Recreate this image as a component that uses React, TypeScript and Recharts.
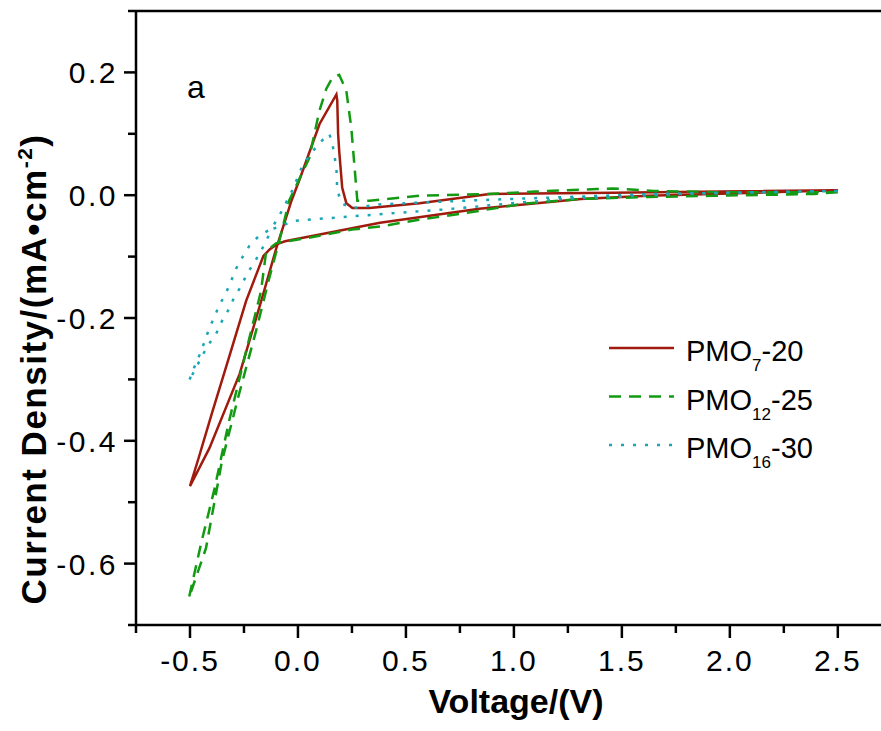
import { LineChart, Line, XAxis, YAxis, ReferenceLine, Legend } from "recharts";

// PMO7-20: cathodic sweep from 2.5 V down to -0.5 V, then anodic sweep back
const pmo7Voltage = [
  2.5, 1.92, 1.62, 1.31, 0.84, 0.38, 0.19, -0.06, -0.09, -0.11, -0.13, -0.16, -0.24, -0.32, -0.4, -0.46, -0.5,
  -0.41, -0.27, -0.17, -0.1, -0.03, 0.01, 0.1, 0.178, 0.182, 0.186, 0.191, 0.205, 0.224, 0.252, 0.331, 0.563, 0.887,
  1.458, 2.5,
];
const pmo7Current = [
  0.008, 0.002, -0.001, -0.006, -0.022, -0.045, -0.058, -0.075, -0.079, -0.083, -0.088, -0.099, -0.172, -0.265,
  -0.357, -0.428, -0.474, -0.412, -0.291, -0.172, -0.086, -0.009, 0.028, 0.116, 0.164, 0.154, 0.1, 0.072, 0.012,
  -0.013, -0.021, -0.021, -0.013, 0.002, 0.004, 0.008,
];

// PMO12-25
const pmo12Voltage = [
  2.5, 2.39, 1.92, 1.62, 1.31, 1.04, 0.76, 0.56, 0.38, 0.25, 0.04, -0.1, -0.147, -0.171, -0.24, -0.319, -0.389,
  -0.449, -0.505, -0.426, -0.352, -0.273, -0.194, -0.133, -0.078, -0.041, 0.052, 0.099, 0.131, 0.159, 0.191, 0.224,
  0.247, 0.27, 0.275, 0.331, 0.563, 0.887, 1.1, 1.384, 1.458, 1.644, 1.922, 2.5,
];
const pmo12Current = [
  0.005, 0.002, -0.001, -0.003, -0.006, -0.014, -0.03, -0.04, -0.051, -0.056, -0.07, -0.078, -0.091, -0.156, -0.254,
  -0.368, -0.482, -0.568, -0.656, -0.575, -0.433, -0.324, -0.221, -0.135, -0.063, -0.009, 0.06, 0.137, 0.173, 0.191,
  0.196, 0.17, 0.11, 0.012, -0.009, -0.009, -0.001, 0.002, 0.006, 0.01, 0.011, 0.007, 0.005, 0.005,
];

// PMO16-30
const pmo16Voltage = [
  2.5, 1.769, 1.458, 1.245, 0.994, 0.688, 0.377, -0.027, -0.073, -0.119, -0.143, -0.171, -0.203, -0.236, -0.263,
  -0.296, -0.319, -0.352, -0.379, -0.412, -0.444, -0.472, -0.505, -0.481, -0.458, -0.435, -0.412, -0.389, -0.365,
  -0.333, -0.31, -0.287, -0.259, -0.226, -0.18, -0.124, -0.087, -0.055, -0.027, 0.015, 0.052, 0.099, 0.145, 0.159,
  0.178, 0.182, 0.205, 0.252, 0.377, 0.762, 1.245, 1.644, 2.5,
];
const pmo16Current = [
  0.007, 0.002, -0.003, -0.006, -0.013, -0.023, -0.031, -0.042, -0.05, -0.055, -0.071, -0.091, -0.11, -0.128, -0.148,
  -0.167, -0.185, -0.205, -0.226, -0.242, -0.262, -0.281, -0.303, -0.281, -0.262, -0.241, -0.218, -0.2, -0.18,
  -0.159, -0.14, -0.12, -0.102, -0.083, -0.066, -0.055, -0.034, -0.012, 0.007, 0.043, 0.064, 0.085, 0.1, 0.085,
  0.045, 0.007, -0.014, -0.021, -0.015, -0.009, -0.003, 0.002, 0.007,
];

const xTicks = [-0.75, -0.5, -0.25, 0, 0.25, 0.5, 0.75, 1, 1.25, 1.5, 1.75, 2, 2.25, 2.5];
const yTicks = [-0.7, -0.6, -0.5, -0.4, -0.3, -0.2, -0.1, 0, 0.1, 0.2, 0.3];

const legendItems = [
  { base: "PMO", sub: "7", suffix: "-20", color: "#a01a0e", dash: undefined },
  { base: "PMO", sub: "12", suffix: "-25", color: "#139a13", dash: "12 8" },
  { base: "PMO", sub: "16", suffix: "-30", color: "#1aa6b5", dash: "3 9" },
];

const toPoints = (v: number[], c: number[]) => v.map((x, k) => ({ v: x, i: c[k] }));

const FONT = "'Liberation Sans', Arial, sans-serif";
const PLOT_LEFT = 136;
const PLOT_BOTTOM = 625;

const XTick = ({ x, payload }: any) => {
  const val = payload.value as number;
  const major = Math.abs(val * 2 - Math.round(val * 2)) < 1e-6;
  return (
    <g>
      <line x1={x} x2={x} y1={PLOT_BOTTOM} y2={PLOT_BOTTOM + (major ? 13 : 8)} stroke="#000" strokeWidth={2.5} />
      {major && (
        <text x={x} y={PLOT_BOTTOM + 46} textAnchor="middle" fontSize={30} fontFamily={FONT} letterSpacing={2} fill="#000">
          {val.toFixed(1)}
        </text>
      )}
    </g>
  );
};

const YTick = ({ y, payload }: any) => {
  const val = payload.value as number;
  const major = Math.round(Math.abs(val) * 10) % 2 === 0 && Math.abs(val) < 0.65;
  return (
    <g>
      <line x1={PLOT_LEFT - (major ? 12 : 8)} x2={PLOT_LEFT} y1={y} y2={y} stroke="#000" strokeWidth={2.5} />
      {major && (
        <text x={118} y={y + 11} textAnchor="end" fontSize={30} fontFamily={FONT} letterSpacing={2.5} fill="#000">
          {val.toFixed(1)}
        </text>
      )}
    </g>
  );
};

const YTitle = () => (
  <text
    transform="translate(46,369) rotate(-90)"
    textAnchor="middle"
    fontSize={35}
    fontWeight="bold"
    fontFamily={FONT}
    letterSpacing={1.5}
    fill="#000"
  >
    Current Density/(mA•cm
    <tspan dy={-14} fontSize={21}>-2</tspan>
    <tspan dy={14}>)</tspan>
  </text>
);

const XTitle = () => (
  <text x={516} y={713} textAnchor="middle" fontSize={34} fontWeight="bold" fontFamily={FONT} fill="#000">
    Voltage/(V)
  </text>
);

const renderLegend = () => (
  <svg width={270} height={175} style={{ display: "block", overflow: "visible" }}>
    {legendItems.map((it, k) => {
      const base = 41 + k * 48.5;
      return (
        <g key={it.sub}>
          <line x1={9} x2={74} y1={base - 13} y2={base - 13} stroke={it.color} strokeWidth={2.5} strokeDasharray={it.dash} />
          <text x={86} y={base} fontSize={29} fontFamily={FONT} fill="#000">
            {it.base}
            <tspan dy={10} fontSize={17}>{it.sub}</tspan>
            <tspan dy={-10}>{it.suffix}</tspan>
          </text>
        </g>
      );
    })}
  </svg>
);

export default function App() {
  return (
    <div style={{ position: "absolute", left: 0, top: 0, width: 881, height: 731, background: "#fff" }}>
      <LineChart width={881} height={731} margin={{ top: 11, right: 0, bottom: 0, left: 0 }}>
        <XAxis
          dataKey="v"
          type="number"
          domain={[-0.75, 2.7]}
          ticks={xTicks}
          interval={0}
          allowDataOverflow
          height={106}
          tickLine={false}
          tick={<XTick />}
          axisLine={{ stroke: "#000", strokeWidth: 2.5 }}
          label={<XTitle />}
        />
        <YAxis
          type="number"
          domain={[-0.7, 0.3]}
          ticks={yTicks}
          interval={0}
          allowDataOverflow
          width={136}
          tickLine={false}
          tick={<YTick />}
          axisLine={{ stroke: "#000", strokeWidth: 2.5 }}
          label={<YTitle />}
        />
        <ReferenceLine y={0.3} stroke="#000" strokeWidth={2.5} ifOverflow="visible" />
        <Legend
          layout="horizontal"
          verticalAlign="middle"
          align="center"
          content={renderLegend}
          wrapperStyle={{ left: 600, top: 320, width: 270, height: 175 }}
        />
        <Line
          data={toPoints(pmo7Voltage, pmo7Current)}
          dataKey="i"
          type="linear"
          stroke="#a01a0e"
          strokeWidth={2.5}
          dot={false}
          isAnimationActive={false}
        />
        <Line
          data={toPoints(pmo12Voltage, pmo12Current)}
          dataKey="i"
          type="linear"
          stroke="#139a13"
          strokeWidth={2.5}
          strokeDasharray="12 8"
          dot={false}
          isAnimationActive={false}
        />
        <Line
          data={toPoints(pmo16Voltage, pmo16Current)}
          dataKey="i"
          type="linear"
          stroke="#1aa6b5"
          strokeWidth={2.5}
          strokeDasharray="3 9"
          dot={false}
          isAnimationActive={false}
        />
        <text x={187} y={98} fontSize={32} fontFamily={FONT} fill="#000">
          a
        </text>
      </LineChart>
    </div>
  );
}
